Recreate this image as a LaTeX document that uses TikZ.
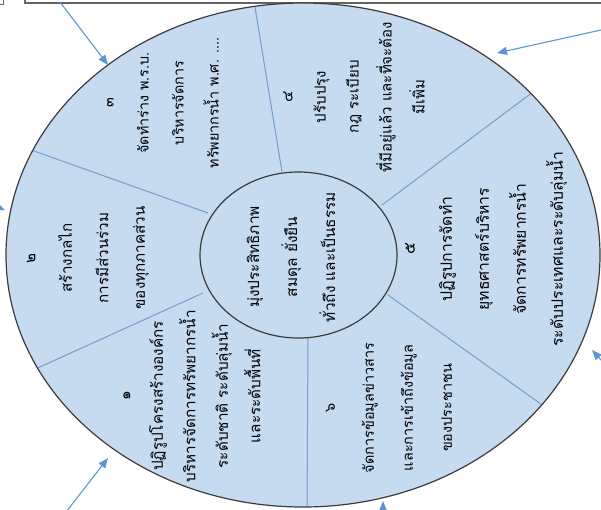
\documentclass[tikz,border=0pt]{standalone}
\usepackage{fontspec}
\newfontfamily\thaifont[Script=Thai]{Loma}
\usetikzlibrary{arrows.meta}
\definecolor{secfill}{RGB}{198,218,240}
\definecolor{spoke}{RGB}{118,158,204}
\definecolor{rim}{RGB}{60,60,60}
\definecolor{arr}{RGB}{91,150,210}
\tikzset{
  sectxt/.style={rotate=90, align=center, text=black, inner sep=0pt},
  bigarrow/.style={draw=arr, line width=1.1pt, -{Triangle[length=10pt,width=8pt]}},
}
\newlength\mytmpw
% #1 = reference line, #2 = its target length in pt, #3 = baselineskip
\newcommand{\fitsize}[3]{%
  \settowidth\mytmpw{\thaifont\fontsize{10}{12}\selectfont #1}%
  \pgfmathsetmacro\myfsz{10*#2/\mytmpw}%
  \thaifont\fontsize{\myfsz}{#3}\selectfont}
\begin{document}
\begin{tikzpicture}[x=1pt,y=-1pt]
\useasboundingbox (0,0) rectangle (601,509);
% top frame pieces
\draw[rim!80, line width=1pt] (-5,4) -- (3,4) -- (3,-5);
\draw[rim!80, line width=1.2pt] (25,-5) -- (25,3) -- (610,3);
% outer ellipse
\fill[secfill] (303,255) ellipse [x radius=297, y radius=252];
\begin{scope}
\clip (303,255) ellipse [x radius=297, y radius=252];
\draw[spoke, line width=1pt] (282,172) -- (253,-5);
\draw[spoke, line width=1pt] (208,213) -- (20,146);
\draw[spoke, line width=1pt] (203,293) -- (20,376);
\draw[spoke, line width=1pt] (308,338) -- (307,515);
\draw[spoke, line width=1pt] (388,295) -- (552,412);
\draw[spoke, line width=1pt] (382,205) -- (545,83);
\end{scope}
\draw[rim, line width=1.2pt] (303,255) ellipse [x radius=297, y radius=252];
% inner ellipse
\filldraw[fill=secfill, draw=rim, line width=1.2pt] (298.5,255) ellipse [x radius=98.5, y radius=83];
% texts
\node[sectxt, font={\fitsize{ทั่วถึง และเป็นธรรม}{130}{38}}] (c) at (291,257) {มุ่งประสิทธิภาพ\\สมดุล ยั่งยืน\\ทั่วถึง และเป็นธรรม};
\node[sectxt, font={\fitsize{บริหารจัดการทรัพยากรน้ำ}{172}{32.5}}] (s1) at (192,396) {๑\\ปฏิรูปโครงสร้างองค์กร\\บริหารจัดการทรัพยากรน้ำ\\ระดับชาติ ระดับลุ่มน้ำ\\และระดับพื้นที่};
\node[sectxt, font={\fitsize{ของทุกภาคส่วน}{103}{36.5}}] (s2) at (88,258) {๒\\สร้างกลไก\\การมีส่วนร่วม\\ของทุกภาคส่วน};
\node[sectxt, font={\fitsize{บริหารจัดการ}{84}{35}}] (s3) at (163,103) {๓\\จัดทำร่าง พ.ร.บ.\\บริหารจัดการ\\ทรัพยากรน้ำ พ.ศ. ....};
\node[sectxt, font={\fitsize{ที่มีอยู่แล้ว และที่จะต้อง}{150}{33}}] (s4) at (354,97) {๔\\ปรับปรุง\\กฎ ระเบียบ\\ที่มีอยู่แล้ว และที่จะต้อง\\มีเพิ่ม};
\node[sectxt, font={\fitsize{ระดับประเทศและระดับลุ่มน้ำ}{195}{37}}] (s5) at (486,249) {๕\\ปฏิรูปการจัดทำ\\ยุทธศาสตร์บริหาร\\จัดการทรัพยากรน้ำ\\ระดับประเทศและระดับลุ่มน้ำ};
\node[sectxt, font={\fitsize{จัดการข้อมูลข่าวสาร}{130}{39}}] (s6) at (389,408) {๖\\จัดการข้อมูลข่าวสาร\\และการเข้าถึงข้อมูล\\ของประชาชน};
% arrows
\coordinate (a1s) at (60,2);   \coordinate (a1e) at (108,65);
\coordinate (a2s) at (610,28); \coordinate (a2e) at (497,53);
\coordinate (a3s) at (-30,196);\coordinate (a3e) at (5,210);
\coordinate (a4s) at (66,512); \coordinate (a4e) at (108,458);
\coordinate (a5s) at (383,530);\coordinate (a5e) at (383,501);
\coordinate (a6s) at (612,372);\coordinate (a6e) at (592,350);
\begin{scope}
\clip (0,0) rectangle (601,509);
\draw[bigarrow] (a1s) -- (a1e);
\draw[bigarrow] (a2s) -- (a2e);
\draw[bigarrow] (a3s) -- (a3e);
\draw[bigarrow] (a4s) -- (a4e);
\draw[bigarrow] (a5s) -- (a5e);
\draw[bigarrow] (a6s) -- (a6e);
\end{scope}
\end{tikzpicture}
\end{document}
